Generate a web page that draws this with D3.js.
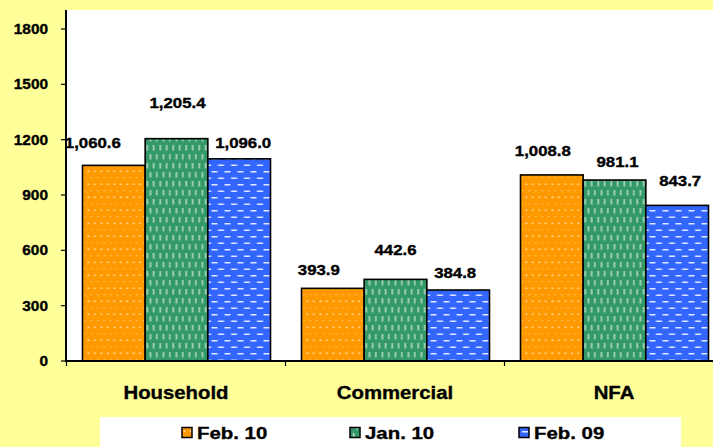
<!DOCTYPE html>
<html>
<head>
<meta charset="utf-8">
<script src="https://cdn.jsdelivr.net/npm/d3@7"></script>
<style>
  body { margin: 0; background: #FFFF99; }
  svg { display: block; }
  text { font-family: Arial, "Liberation Sans", sans-serif; font-weight: bold; fill: #000; stroke: #000; stroke-width: 0.35px; }
</style>
</head>
<body>
<div id="chart"></div>
<script>
// data
var categories = ['Household', 'Commercial', 'NFA'];
var seriesNames = ['Feb. 10', 'Jan. 10', 'Feb. 09'];
var feb10 = [1060.6, 393.9, 1008.8];
var jan10 = [1205.4, 442.6, 981.1];
var feb09 = [1096.0, 384.8, 843.7];
var yTicks = [0, 300, 600, 900, 1200, 1500, 1800];

var seriesValues = [feb10, jan10, feb09];
var fills = ['url(#pOrange)', 'url(#pGreen)', 'url(#pBlue)'];

// label nudges (dx, dy) like the excel placement, per category then series
var labelNudge = [
	[[-21, -17], [1, -31], [4, -11]],
	[[-14, -13], [0, -24], [-3, -12]],
	[[-9, -19], [3, -13], [3, -19]]
];

var W = 713, H = 447;

var svg = d3.select('#chart')
			.append('svg')
			.attr('width', W)
			.attr('height', H);

// patterns
var defs = svg.append('defs');

var po = defs.append('pattern').attr('id', 'pOrange')
			.attr('patternUnits', 'userSpaceOnUse').attr('width', 13).attr('height', 13);
po.append('rect').attr('width', 13).attr('height', 13).attr('fill', '#FF9900');
[[1.5, 1.5], [8, 1.5], [4.75, 8], [11.25, 8]].forEach(function(p, i) {
	po.append('rect').attr('x', p[0]).attr('y', p[1])
		.attr('width', i < 2 ? 1.6 : 1).attr('height', i < 2 ? 1.6 : 1.4)
		.attr('fill', '#fff').attr('opacity', i < 2 ? 0.7 : 0.5);
});

var pg = defs.append('pattern').attr('id', 'pGreen')
			.attr('patternUnits', 'userSpaceOnUse').attr('width', 13).attr('height', 18);
pg.append('rect').attr('width', 13).attr('height', 18).attr('fill', '#339966');
[[2, 1], [8.5, 1], [5.25, 10], [11.75, 10]].forEach(function(p) {
	pg.append('rect').attr('x', p[0]).attr('y', p[1])
		.attr('width', 1.4).attr('height', 5.5)
		.attr('fill', '#fff').attr('opacity', 0.7);
});

var pb = defs.append('pattern').attr('id', 'pBlue')
			.attr('patternUnits', 'userSpaceOnUse').attr('width', 13).attr('height', 13);
pb.append('rect').attr('width', 13).attr('height', 13).attr('fill', '#3366FF');
[[2, 2], [-4.5, 8.5], [8.5, 8.5]].forEach(function(p) {
	pb.append('rect').attr('x', p[0]).attr('y', p[1])
		.attr('width', 6).attr('height', 1.5)
		.attr('fill', '#fff').attr('opacity', 0.85);
});

// scales
var x0 = d3.scaleBand()
			.domain(categories)
			.range([66.5, 723.5]);

var x1 = d3.scaleBand()
			.domain(d3.range(seriesNames.length))
			.range([16, 204]);

var y = d3.scaleLinear()
			.domain([0, 1800])
			.range([361, 29]);

// stretched bold text helper
function label(g, x, yy, txt, size, sx, anchor) {
	var t = g.append('g').attr('transform', 'translate(' + x + ',' + yy + ')');
	t.append('text')
		.attr('transform', 'scale(' + sx + ',1)')
		.attr('text-anchor', anchor || 'middle')
		.style('font-size', size + 'px')
		.text(txt);
	return t;
}

// plot area
svg.append('rect')
	.attr('x', 66).attr('y', 10)
	.attr('width', W - 66).attr('height', y(0) - 10)
	.attr('fill', '#fff');

// bars
var groups = svg.selectAll('g.cat')
			.data(categories)
			.enter()
			.append('g')
			.attr('class', 'cat')
			.attr('transform', d => 'translate(' + x0(d) + ',0)');

groups.each(function(cat, ci) {
	var g = d3.select(this);
	seriesValues.forEach(function(vals, si) {
		g.append('rect')
			.attr('x', x1(si))
			.attr('y', y(vals[ci]))
			.attr('width', x1.bandwidth())
			.attr('height', y(0) - y(vals[ci]))
			.attr('fill', fills[si])
			.attr('stroke', '#000')
			.attr('stroke-width', 1.6);
	});
});

// y axis
var yAxis = svg.append('g');
yAxis.append('line')
	.attr('x1', 66).attr('x2', 66)
	.attr('y1', 10).attr('y2', y(0) + 1)
	.attr('stroke', '#000').attr('stroke-width', 2);
yTicks.forEach(function(t) {
	yAxis.append('line')
		.attr('x1', 61).attr('x2', 66)
		.attr('y1', y(t)).attr('y2', y(t))
		.attr('stroke', '#000').attr('stroke-width', 1.2);
	label(yAxis, 48, y(t) + 5, d3.format('d')(t), 14, 1.1, 'end');
});

// x axis
var xAxis = svg.append('g');
xAxis.append('line')
	.attr('x1', 65).attr('x2', W)
	.attr('y1', y(0)).attr('y2', y(0))
	.attr('stroke', '#000').attr('stroke-width', 2);
categories.forEach(function(c) {
	xAxis.append('line')
		.attr('x1', x0(c)).attr('x2', x0(c))
		.attr('y1', y(0)).attr('y2', y(0) + 5)
		.attr('stroke', '#000').attr('stroke-width', 1.2);
	label(xAxis, x0(c) + x0.bandwidth() / 2, 399, c, 18.5, 1.1);
});

// value labels
var fmt = d3.format(',.1f');
categories.forEach(function(c, ci) {
	seriesValues.forEach(function(vals, si) {
		var n = labelNudge[ci][si];
		label(svg, x0(c) + x1(si) + x1.bandwidth() / 2 + n[0], y(vals[ci]) + n[1], fmt(vals[ci]), 14, 1.2);
	});
});

// legend
var legend = svg.append('g');
legend.append('rect')
	.attr('x', 100).attr('y', 417)
	.attr('width', 581).attr('height', H - 417)
	.attr('fill', '#fff');
var legendX = [182, 350, 519];
seriesNames.forEach(function(s, i) {
	legend.append('rect')
		.attr('x', legendX[i]).attr('y', 427.5)
		.attr('width', 10).attr('height', 10)
		.attr('fill', fills[i])
		.attr('stroke', '#000').attr('stroke-width', 1.5);
	label(legend, legendX[i] + 15, 439, s, 17, 1.2, 'start');
});
</script>
</body>
</html>
